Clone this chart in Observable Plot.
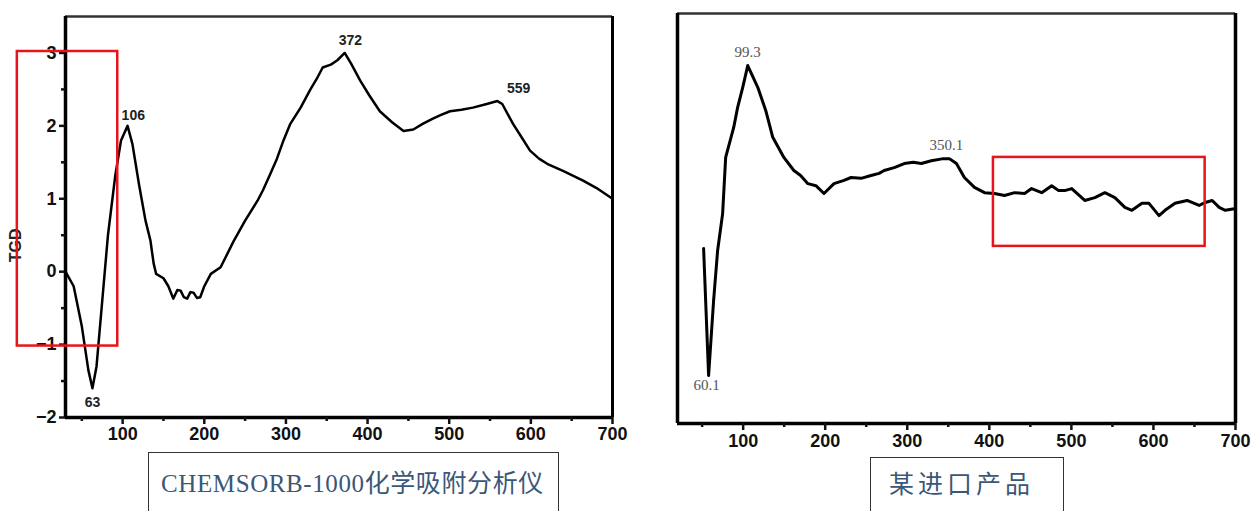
<!DOCTYPE html>
<html>
<head>
<meta charset="utf-8">
<script src="https://cdn.jsdelivr.net/npm/d3@7"></script>
<script src="https://cdn.jsdelivr.net/npm/@observablehq/plot@0.6"></script>
<style>
  html, body { margin: 0; padding: 0; background: #fff; }
  #page { position: relative; width: 1253px; height: 511px; overflow: hidden; background: #fff; }
  #left { position: absolute; left: 0; top: 0; }
  #right { position: absolute; left: 640px; top: 0; }
  .cap { position: absolute; border: 1.5px solid #333; background: #fff; color: #3b5778;
         font-family: "Liberation Serif", "DejaVu Serif", "Noto Sans CJK SC", serif; box-sizing: border-box; }
  #cap1 { left: 148px; top: 452px; width: 411px; height: 70px; font-size: 25px; padding: 10px 0 0 12px; letter-spacing: 0.6px; }
  #cap2 { left: 870px; top: 457px; width: 194px; height: 70px; font-size: 25px; padding: 6px 0 0 18px; letter-spacing: 4px; }
  svg { overflow: visible; }
</style>
</head>
<body>
<div id="page">
  <div id="left"></div>
  <div id="right"></div>
  <div class="cap" id="cap1">CHEMSORB-1000化学吸附分析仪</div>
  <div class="cap" id="cap2">某进口产品</div>
</div>
<script>
// ---- Left chart (CHEMSORB-1000) ----
const leftTemp = [30, 40, 50, 58, 63, 68, 75, 82, 91, 98, 106, 112, 120, 128, 134, 138, 141, 150, 156, 162, 167, 171, 175, 179, 183, 187, 191, 195, 200, 208, 220, 232, 236, 250, 265, 272, 280, 289, 297, 305, 318, 330, 338, 345, 355, 363, 372, 380, 391, 402, 415, 430, 444, 456, 468, 480, 490, 501, 515, 529, 546, 559, 565, 578, 590, 599, 610, 620, 640, 664, 680, 700];
const leftTGD  = [0.0, -0.2, -0.75, -1.35, -1.6, -1.3, -0.4, 0.5, 1.32, 1.8, 2.0, 1.75, 1.2, 0.7, 0.43, 0.11, -0.03, -0.09, -0.2, -0.37, -0.25, -0.26, -0.35, -0.37, -0.28, -0.29, -0.36, -0.35, -0.2, -0.03, 0.06, 0.33, 0.42, 0.7, 0.97, 1.12, 1.32, 1.55, 1.8, 2.02, 2.25, 2.5, 2.65, 2.8, 2.84, 2.9, 3.0, 2.85, 2.62, 2.42, 2.2, 2.05, 1.93, 1.95, 2.03, 2.1, 2.15, 2.2, 2.22, 2.25, 2.3, 2.34, 2.3, 2.03, 1.82, 1.66, 1.55, 1.48, 1.38, 1.25, 1.15, 1.0];
const leftXTicks = [100, 200, 300, 400, 500, 600, 700];
const leftXMinor = [50, 150, 250, 350, 450, 550, 650];
const leftYTicks = [-2, -1, 0, 1, 2, 3];
const leftYMinor = [-1.5, -0.5, 0.5, 1.5, 2.5];
const leftLabelText = ["106", "372", "559", "63"];
const leftLabelX = [113, 379, 585, 63];
const leftLabelY = [2.14, 3.17, 2.51, -1.8];
const leftYTitle = ["TGD"];
const leftYTitleAt = [0.36];
const leftBoxX = [-29, 94];
const leftBoxY = [-1.02, 3.02];

// ---- Right chart (imported product) ----
const rightTemp = [51.8, 57.9, 64, 68.9, 75, 78.7, 88.5, 93.3, 99.5, 105.6, 117.8, 127.6, 136.1, 149.6, 161.8, 170, 178.9, 188.7, 198.5, 210.7, 222.9, 231.5, 243.7, 255.9, 265.7, 271.8, 284.1, 296.3, 307.3, 317.1, 329.3, 344, 351.3, 359.9, 369.6, 381.9, 394.1, 406.3, 418.5, 430.8, 443, 451.5, 463.8, 476, 484.5, 491.9, 500.4, 516.3, 528.6, 540.8, 553, 565.2, 573.8, 586, 594.6, 606.8, 614.1, 626.3, 641, 655.7, 663, 671.6, 680.1, 687.5, 698.5];
const rightSignal = [4.27, 1.17, 3.0, 4.22, 5.12, 6.49, 7.22, 7.71, 8.2, 8.73, 8.2, 7.63, 6.98, 6.49, 6.17, 6.05, 5.85, 5.8, 5.61, 5.85, 5.93, 6.0, 5.98, 6.05, 6.1, 6.17, 6.24, 6.34, 6.37, 6.34, 6.41, 6.46, 6.46, 6.34, 6.0, 5.76, 5.63, 5.61, 5.56, 5.63, 5.61, 5.73, 5.63, 5.8, 5.68, 5.68, 5.73, 5.44, 5.51, 5.63, 5.51, 5.27, 5.2, 5.37, 5.37, 5.07, 5.2, 5.37, 5.44, 5.32, 5.39, 5.44, 5.27, 5.2, 5.24];
const rightXTicks = [100, 200, 300, 400, 500, 600, 700];
const rightXMinor = [50, 150, 250, 350, 450, 550, 650];
const rightLabelText = ["99.3", "350.1", "60.1"];
const rightLabelX = [105.6, 347.6, 55.5];
const rightLabelY = [9.05, 6.78, 0.93];
const rightBoxX = [405, 663];
const rightBoxY = [4.32, 6.49];

const leftData = leftTemp.map((t, i) => ({t, v: leftTGD[i]}));
const leftLabels = leftLabelText.map((s, i) => ({s, x: leftLabelX[i], y: leftLabelY[i]}));
const leftTitle = leftYTitle.map((s, i) => ({s, y: leftYTitleAt[i]}));
const rightData = rightTemp.map((t, i) => ({t, v: rightSignal[i]}));
const rightLabels = rightLabelText.map((s, i) => ({s, x: rightLabelX[i], y: rightLabelY[i]}));

const axisFont = "Liberation Sans, Arial, sans-serif";
const fmt = d => d < 0 ? "\u2212" + Math.abs(d) : String(d);

const left = Plot.plot({
  width: 625, height: 455,
  marginLeft: 65, marginRight: 13, marginTop: 16, marginBottom: 38,
  style: {background: "transparent", fontFamily: axisFont, color: "#111"},
  x: {domain: [30, 700]},
  y: {domain: [-2, 3.5]},
  marks: [
    Plot.ruleY([3.5], {stroke: "#333", strokeWidth: 2.5}),
    Plot.ruleX([700], {stroke: "#000", strokeWidth: 3}),
    Plot.ruleX([30], {stroke: "#000", strokeWidth: 3.5}),
    Plot.ruleY([-2], {stroke: "#000", strokeWidth: 3.5}),
    Plot.axisX({ticks: leftXMinor, tickSize: 4, strokeWidth: 2.5, label: null, text: null}),
    Plot.axisX({ticks: leftXTicks, tickSize: 7, strokeWidth: 2.5, tickPadding: 3, label: null, tickFormat: fmt, fontSize: 18, fontWeight: "bold"}),
    Plot.axisY({ticks: leftYMinor, tickSize: 4, strokeWidth: 2.5, label: null, text: null}),
    Plot.axisY({ticks: leftYTicks, tickSize: 6, strokeWidth: 2.5, tickPadding: 3, tickFormat: fmt, fontSize: 18, fontWeight: "bold", label: null}),
    Plot.text(leftTitle, {frameAnchor: "left", textAnchor: "middle", y: "y", text: "s", dx: -50, rotate: -90, fontSize: 16, fontWeight: "bold", fill: "#222"}),
    Plot.line(leftData, {x: "t", y: "v", stroke: "#000", strokeWidth: 2.5}),
    Plot.text(leftLabels, {x: "x", y: "y", text: "s", fontSize: 14, fontWeight: "bold", fill: "#222"}),
    Plot.rect([0], {x1: leftBoxX[0], x2: leftBoxX[1], y1: leftBoxY[0], y2: leftBoxY[1], fill: "none", stroke: "#e8141b", strokeWidth: 2.5})
  ]
});
document.getElementById("left").appendChild(left);

const right = Plot.plot({
  width: 613, height: 460,
  marginLeft: 37, marginRight: 18, marginTop: 13, marginBottom: 37,
  style: {background: "transparent", fontFamily: axisFont, color: "#111"},
  x: {domain: [20, 700]},
  y: {domain: [0, 10], axis: null},
  marks: [
    Plot.ruleY([10], {stroke: "#333", strokeWidth: 2.5}),
    Plot.ruleX([700], {stroke: "#000", strokeWidth: 3.5}),
    Plot.ruleX([20], {stroke: "#000", strokeWidth: 3.5}),
    Plot.ruleY([0], {stroke: "#000", strokeWidth: 3.5}),
    Plot.axisX({ticks: rightXMinor, tickSize: 4, strokeWidth: 2.5, label: null, text: null}),
    Plot.axisX({ticks: rightXTicks, tickSize: 7, strokeWidth: 2.5, tickPadding: 4, label: null, tickFormat: fmt, fontSize: 18, fontWeight: "bold"}),
    Plot.line(rightData, {x: "t", y: "v", stroke: "#000", strokeWidth: 3}),
    Plot.text(rightLabels, {x: "x", y: "y", text: "s", fontSize: 15, fill: "#555", fontFamily: "Liberation Serif, DejaVu Serif, serif"}),
    Plot.rect([0], {x1: rightBoxX[0], x2: rightBoxX[1], y1: rightBoxY[0], y2: rightBoxY[1], fill: "none", stroke: "#e8141b", strokeWidth: 2.5})
  ]
});
document.getElementById("right").appendChild(right);
</script>
</body>
</html>
